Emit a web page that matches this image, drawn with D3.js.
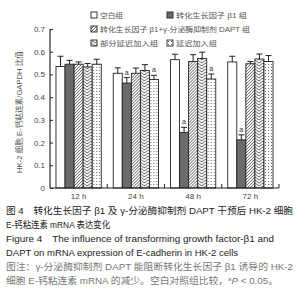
<!DOCTYPE html>
<html>
<head>
<meta charset="utf-8">
<script src="https://cdn.jsdelivr.net/npm/d3@7/dist/d3.min.js"></script>
<style>
  body { margin: 0; background: #fff; }
  svg { display: block; font-family: "Liberation Sans", "Noto Sans CJK SC", sans-serif; }
</style>
</head>
<body>
<div id="chart"></div>
<script>
const groups = ["12 h", "24 h", "48 h", "72 h"];
const seriesNames = ["空白组", "转化生长因子 β1 组", "转化生长因子 β1+γ-分泌酶抑制剂 DAPT 组", "部分延迟加入组", "延迟加入组"];
const blank   = [0.535, 0.505, 0.565, 0.555];
const tgf     = [0.545, 0.462, 0.245, 0.212];
const dapt    = [0.545, 0.505, 0.557, 0.547];
const partial = [0.533, 0.517, 0.570, 0.568];
const delayed = [0.545, 0.478, 0.480, 0.557];
const blankErr   = [0.045, 0.024, 0.024, 0.025];
const tgfErr     = [0.017, 0.024, 0.022, 0.022];
const daptErr    = [0.010, 0.023, 0.030, 0.010];
const partialErr = [0.015, 0.026, 0.028, 0.022];
const delayedErr = [0.022, 0.018, 0.022, 0.026];
const sigA = [[0, 0, 0, 0, 0], [0, 1, 0, 0, 1], [0, 1, 0, 0, 1], [0, 1, 0, 0, 0]];
const yTicks = [0, 0.1, 0.2, 0.3, 0.4, 0.5, 0.6, 0.7];
const captionLines = [
  "图 4　转化生长因子 β1 及 γ-分泌酶抑制剂 DAPT 干预后 HK-2 细胞",
  "E-钙粘连素 mRNA 表达变化",
  "Figure 4　The influence of transforming growth factor-β1 and",
  "DAPT on mRNA expression of E-cadherin in HK-2 cells",
  "图注：γ-分泌酶抑制剂 DAPT 能阻断转化生长因子 β1 诱导的 HK-2",
  "细胞 E-钙粘连素 mRNA 的减少。空白对照组比较，"
];

const values = [blank, tgf, dapt, partial, delayed];
const errs = [blankErr, tgfErr, daptErr, partialErr, delayedErr];
const fills = ["#fff", "#6b6b6b", "url(#hatch1)", "url(#hatch2)", "url(#dots)"];

const width = 302, height = 300;
const svg = d3.select("#chart").append("svg")
  .attr("width", width).attr("height", height);

// patterns
const defs = svg.append("defs");
const h1 = defs.append("pattern").attr("id", "hatch1")
  .attr("patternUnits", "userSpaceOnUse").attr("width", 3).attr("height", 3);
h1.append("rect").attr("width", 3).attr("height", 3).attr("fill", "#fff");
h1.append("path").attr("d", "M-1,1 L1,-1 M0,3 L3,0 M2,4 L4,2")
  .attr("stroke", "#333").attr("stroke-width", 0.8);

const h2 = defs.append("pattern").attr("id", "hatch2")
  .attr("patternUnits", "userSpaceOnUse").attr("width", 8).attr("height", 3);
h2.append("rect").attr("width", 8).attr("height", 3).attr("fill", "#fff");
h2.append("path").attr("d", "M0,0 L4,3 L8,0 M0,-3 L4,0 L8,-3 M0,3 L4,6 L8,3")
  .attr("fill", "none").attr("stroke", "#333").attr("stroke-width", 0.8);

const dp = defs.append("pattern").attr("id", "dots")
  .attr("patternUnits", "userSpaceOnUse").attr("width", 3).attr("height", 3);
dp.append("rect").attr("width", 3).attr("height", 3).attr("fill", "#fff");
dp.append("rect").attr("x", 1).attr("y", 1).attr("width", 0.9).attr("height", 0.9).attr("fill", "#444");

const x0 = d3.scaleBand().domain(groups).range([50, 279]);
const x1 = d3.scaleBand().domain(d3.range(5)).range([0, x0.bandwidth()])
  .paddingOuter(0.66);
const y = d3.scaleLinear().domain([0, 0.7]).range([188, 29]);

// bars
const data = [];
groups.forEach((g, gi) => {
  values.forEach((s, si) => {
    data.push({ g, si, v: s[gi], e: errs[si][gi], a: sigA[gi][si] });
  });
});

const bar = svg.append("g").selectAll("g").data(data).join("g")
  .attr("transform", d => `translate(${x0(d.g) + x1(d.si)},0)`);
bar.append("rect")
  .attr("x", 0).attr("y", d => y(d.v))
  .attr("width", x1.bandwidth()).attr("height", d => y(0) - y(d.v))
  .attr("fill", d => fills[d.si]).attr("stroke", "#222").attr("stroke-width", 0.9);
const bw = x1.bandwidth();
bar.append("line")
  .attr("x1", bw / 2).attr("x2", bw / 2)
  .attr("y1", d => y(d.v)).attr("y2", d => y(d.v + d.e))
  .attr("stroke", "#222").attr("stroke-width", 1);
bar.append("line")
  .attr("x1", bw / 2 - 3).attr("x2", bw / 2 + 3)
  .attr("y1", d => y(d.v + d.e)).attr("y2", d => y(d.v + d.e))
  .attr("stroke", "#222").attr("stroke-width", 1);
bar.filter(d => d.a).append("text")
  .attr("x", bw / 2).attr("y", d => y(d.v + d.e) - 3)
  .attr("text-anchor", "middle").attr("font-size", 7).attr("fill", "#333")
  .text("a");

// axes
const yAxis = d3.axisLeft(y).tickValues(yTicks).tickSize(-3).tickPadding(5)
  .tickFormat(d => d === 0 ? "0" : d3.format(".1f")(d));
const gy = svg.append("g").attr("transform", "translate(50,0)").call(yAxis);
gy.select(".domain").attr("d", "M0,29V188");
gy.selectAll("text").attr("font-size", 8).attr("fill", "#444");
gy.selectAll("line").attr("stroke", "#222");

const bounds = groups.map(g => x0(g) + x0.bandwidth());
svg.append("line").attr("x1", 50).attr("x2", 279).attr("y1", 188).attr("y2", 188)
  .attr("stroke", "#222");
svg.append("g").selectAll("line").data(bounds).join("line")
  .attr("x1", d => d).attr("x2", d => d).attr("y1", 188).attr("y2", 184)
  .attr("stroke", "#222");
svg.append("g").selectAll("text").data(groups).join("text")
  .attr("x", d => x0(d) + x0.bandwidth() / 2).attr("y", 199)
  .attr("text-anchor", "middle").attr("font-size", 8).attr("fill", "#444")
  .text(d => d);

svg.append("text")
  .attr("transform", "translate(22,112) rotate(-90)")
  .attr("text-anchor", "middle").attr("font-size", 7.5).attr("fill", "#555")
  .attr("textLength", 122).attr("lengthAdjust", "spacingAndGlyphs")
  .text("HK-2 细胞 E-钙粘连素/GAPDH 比值");

// legend
const legendPos = [[91, 15], [167, 15], [91, 29], [91, 43], [167, 43]];
const legendLen = [23, 71, 150, 58, 41];
const lg = svg.append("g").selectAll("g").data(seriesNames).join("g")
  .attr("transform", (d, i) => `translate(${legendPos[i][0]},${legendPos[i][1]})`);
lg.append("rect").attr("x", 0).attr("y", -3).attr("width", 6).attr("height", 6)
  .attr("fill", (d, i) => fills[i]).attr("stroke", "#222").attr("stroke-width", 0.9);
lg.append("text").attr("x", 9).attr("y", 3).attr("font-size", 7).attr("fill", "#555")
  .attr("textLength", (d, i) => legendLen[i]).attr("lengthAdjust", "spacingAndGlyphs")
  .text(d => d);

// caption
const capY = [214, 228, 242, 256, 270, 284];
const capColor = ["#222", "#222", "#222", "#222", "#777", "#777"];
const capLen = [287, 104, 268, 232, 287, 272];
const cap = svg.append("g").selectAll("text").data(captionLines).join("text")
  .attr("x", 6).attr("y", (d, i) => capY[i])
  .attr("font-size", 9.5).attr("fill", (d, i) => capColor[i])
  .attr("textLength", (d, i) => capLen[i])
  .attr("lengthAdjust", "spacingAndGlyphs")
  .text(d => d);
const last = cap.filter((d, i) => i === 5);
last.append("tspan").attr("dy", -3).attr("font-size", 6).text("a");
last.append("tspan").attr("dy", 3).attr("font-style", "italic").text("P");
last.append("tspan").text(" < 0.05。");
</script>
</body>
</html>
